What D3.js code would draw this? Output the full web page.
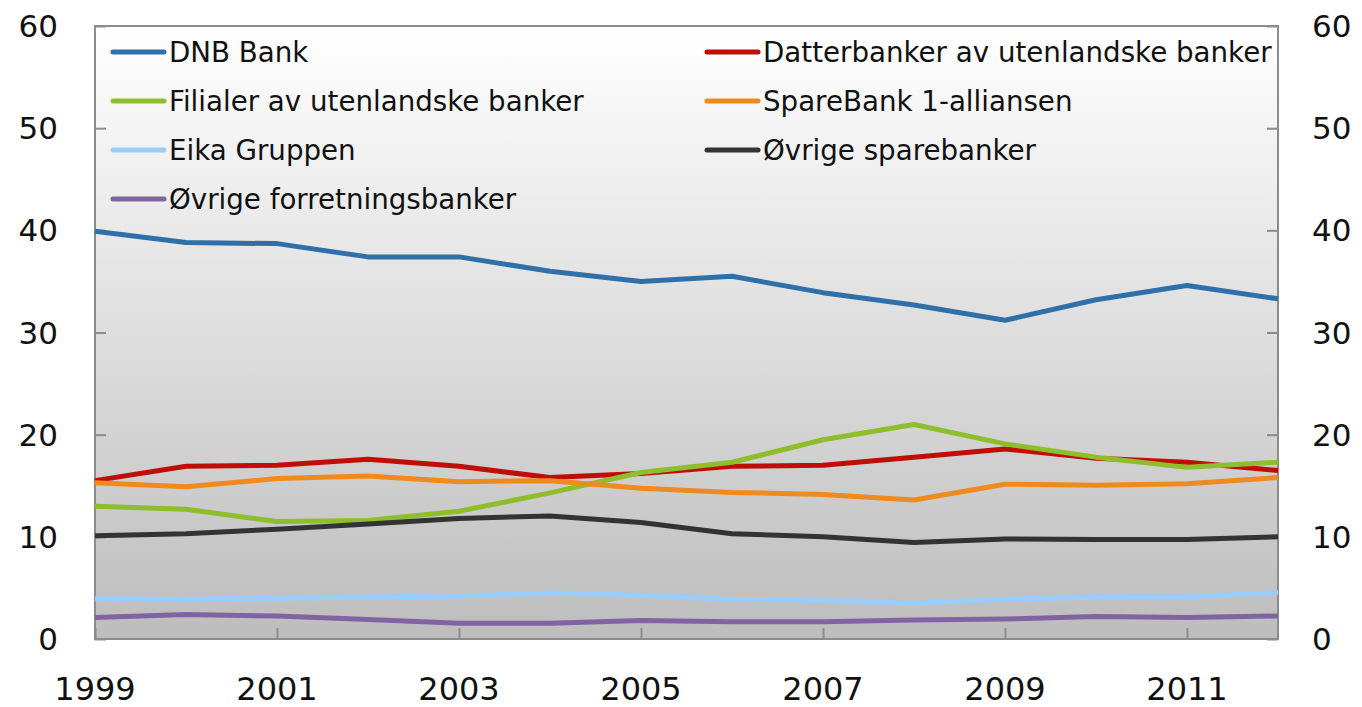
<!DOCTYPE html>
<html>
<head>
<meta charset="utf-8">
<script src="https://cdn.jsdelivr.net/npm/d3@7"></script>
<style>
  body { margin: 0; background: #fff; }
  text { font-family: "DejaVu Sans", Verdana, sans-serif; fill: #111; }
</style>
</head>
<body>
<script>
// data (percent)
var years = [1999, 2000, 2001, 2002, 2003, 2004, 2005, 2006, 2007, 2008, 2009, 2010, 2011, 2012];
var seriesNames = ["DNB Bank", "Datterbanker av utenlandske banker", "Filialer av utenlandske banker",
  "SpareBank 1-alliansen", "Eika Gruppen", "Øvrige sparebanker", "Øvrige forretningsbanker"];
var dnb = [39.9, 38.8, 38.7, 37.4, 37.4, 36.0, 35.0, 35.5, 33.9, 32.7, 31.2, 33.2, 34.6, 33.3];
var datterbanker = [15.5, 16.9, 17.0, 17.6, 16.9, 15.8, 16.2, 16.9, 17.0, 17.8, 18.6, 17.7, 17.3, 16.5];
var filialer = [13.0, 12.7, 11.5, 11.6, 12.5, 14.3, 16.3, 17.3, 19.5, 21.0, 19.1, 17.8, 16.8, 17.3];
var sparebank1 = [15.3, 14.9, 15.7, 15.95, 15.4, 15.5, 14.75, 14.35, 14.15, 13.6, 15.15, 15.05, 15.2, 15.8];
var eika = [3.95, 3.9, 4.0, 4.1, 4.2, 4.5, 4.3, 3.9, 3.8, 3.5, 3.9, 4.1, 4.15, 4.55];
var ovrigeSpare = [10.1, 10.3, 10.75, 11.25, 11.8, 12.05, 11.4, 10.3, 10.0, 9.45, 9.8, 9.75, 9.75, 10.0];
var ovrigeForr = [2.1, 2.4, 2.25, 1.9, 1.55, 1.55, 1.8, 1.7, 1.7, 1.85, 1.95, 2.2, 2.1, 2.25];
var colors = ["#2f70a9", "#c00d06", "#8fbe2c", "#ef8a1f", "#99ccff", "#333333", "#8064a2"];
var yTicks = [0, 10, 20, 30, 40, 50, 60];
var xTicks = [1999, 2001, 2003, 2005, 2007, 2009, 2011];

var allValues = [dnb, datterbanker, filialer, sparebank1, eika, ovrigeSpare, ovrigeForr];

var svgWidth = 1362, svgHeight = 707;
var margin = { top: 26, right: 84, bottom: 68, left: 95 };
var chartwidth = svgWidth - margin.left - margin.right;
var chartheight = svgHeight - margin.top - margin.bottom;

var svg = d3.select("body").append("svg")
  .attr("width", svgWidth)
  .attr("height", svgHeight);

// background gradient
var grad = svg.append("defs").append("linearGradient")
  .attr("id", "bg").attr("x1", 0).attr("y1", 0).attr("x2", 0).attr("y2", 1);
grad.append("stop").attr("offset", "0%").attr("stop-color", "#ffffff");
grad.append("stop").attr("offset", "100%").attr("stop-color", "#bdbdbd");

var chartgroup = svg.append("g")
  .attr("transform", `translate(${margin.left}, ${margin.top})`);

chartgroup.append("rect")
  .attr("width", chartwidth).attr("height", chartheight)
  .attr("fill", "url(#bg)");

var x = d3.scaleLinear().domain([1999, 2012]).range([0, chartwidth]);
var y = d3.scaleLinear().domain([0, 60]).range([chartheight, 0]);

// axes with inward ticks on left, right and bottom
var leftAxis = chartgroup.append("g")
  .call(d3.axisRight(y).tickValues(yTicks).tickSize(11).tickFormat(""));
var rightAxis = chartgroup.append("g")
  .attr("transform", `translate(${chartwidth}, 0)`)
  .call(d3.axisLeft(y).tickValues(yTicks).tickSize(11).tickFormat(""));
var bottomAxis = chartgroup.append("g")
  .attr("transform", `translate(0, ${chartheight})`)
  .call(d3.axisTop(x).tickValues(xTicks).tickSize(11).tickFormat(""));
[leftAxis, rightAxis, bottomAxis].forEach(function (a) {
  a.selectAll("line").attr("stroke", "#8c8c8c").attr("stroke-width", 2);
  a.select(".domain").remove();
});

// frame
chartgroup.append("rect")
  .attr("width", chartwidth).attr("height", chartheight)
  .attr("fill", "none").attr("stroke", "#8c8c8c").attr("stroke-width", 2);

// tick labels
chartgroup.selectAll(".ylabL").data(yTicks).enter().append("text")
  .attr("x", -37).attr("y", d => y(d)).attr("dy", "0.36em")
  .attr("text-anchor", "end").style("font-size", "31px")
  .text(d => d);
chartgroup.selectAll(".ylabR").data(yTicks).enter().append("text")
  .attr("x", chartwidth + 34).attr("y", d => y(d)).attr("dy", "0.36em")
  .attr("text-anchor", "start").style("font-size", "31px")
  .text(d => d);
chartgroup.selectAll(".xlab").data(xTicks).enter().append("text")
  .attr("x", d => x(d)).attr("y", chartheight + 61)
  .attr("text-anchor", "middle").style("font-size", "32px")
  .text(d => d);

// lines
var line = d3.line()
  .x((d, i) => x(years[i]))
  .y(d => y(d));

chartgroup.selectAll(".series").data(allValues).enter().append("path")
  .attr("d", d => line(d))
  .attr("fill", "none")
  .attr("stroke", (d, i) => colors[i])
  .attr("stroke-width", 5)
  .attr("stroke-linejoin", "round");

// legend
var legendPos = [[16, 26], [610, 26], [16, 75], [610, 75], [16, 124], [610, 124], [16, 173]];
var legend = chartgroup.selectAll(".legend").data(seriesNames).enter().append("g")
  .attr("transform", (d, i) => `translate(${legendPos[i][0]}, ${legendPos[i][1]})`);
legend.append("line")
  .attr("x1", 2).attr("x2", 53).attr("y1", 0).attr("y2", 0)
  .attr("stroke", (d, i) => colors[i])
  .attr("stroke-width", 5)
  .attr("stroke-linecap", "round");
legend.append("text")
  .attr("x", 58).attr("y", 0).attr("dy", "0.36em")
  .style("font-size", "27.7px")
  .text(d => d);
</script>
</body>
</html>
